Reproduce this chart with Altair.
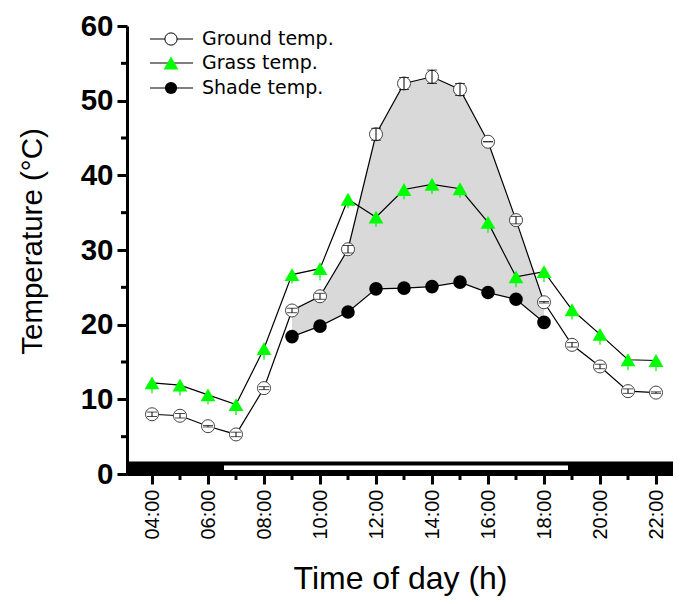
import altair as alt
import pandas as pd

hours = list(range(4, 23))
ground = [8.0, 7.8, 6.4, 5.3, 11.5, 21.9, 23.8, 30.1, 45.5, 52.3, 53.2, 51.5,
          44.5, 34.0, 23.0, 17.3, 14.4, 11.1, 10.9]
ground_err = [0.3, 0.3, 0.1, 0.3, 0.2, 0.3, 0.4, 0.5, 0.8, 0.8, 0.9, 0.8,
              0.0, 0.5, 0.1, 0.3, 0.3, 0.3, 0.1]
grass = [12.2, 11.9, 10.6, 9.3, 16.8, 26.7, 27.5, 36.8, 34.4, 38.1, 38.8, 38.2,
         33.7, 26.4, 27.1, 22.0, 18.7, 15.3, 15.2]
grass_err = [1.4, 1.4, 1.3, 1.4, 1.5, 1.2, 1.6, 1.2, 1.3, 1.3, 1.3, 1.2,
             1.4, 1.4, 1.4, 1.3, 1.4, 1.4, 1.4]
shade_hours = list(range(9, 19))
shade = [18.4, 19.8, 21.7, 24.8, 24.9, 25.1, 25.7, 24.3, 23.4, 20.3]

tick_hours = [4, 6, 8, 10, 12, 14, 16, 18, 20, 22]
tick_labels = ["04:00", "06:00", "08:00", "10:00", "12:00", "14:00",
               "16:00", "18:00", "20:00", "22:00"]
minor_hours = [5, 7, 9, 11, 13, 15, 17, 19, 21]
y_ticks = [0, 10, 20, 30, 40, 50, 60]
minor_y = [5, 15, 25, 35, 45, 55]
legend_labels = ["Ground temp.", "Grass temp.", "Shade temp."]

W, H = 546, 448
FONT = "Liberation Sans"
LEG_FONT = "DejaVu Sans"

ground_df = pd.DataFrame({"hour": hours, "temp": ground, "err": ground_err})
ground_df["lo"] = ground_df["temp"] - ground_df["err"]
ground_df["hi"] = ground_df["temp"] + ground_df["err"]
grass_df = pd.DataFrame({"hour": hours, "temp": grass, "err": grass_err})
grass_df["lo"] = grass_df["temp"] - grass_df["err"]
shade_df = pd.DataFrame({"hour": shade_hours, "temp": shade})
area_df = pd.DataFrame({"hour": shade_hours,
                        "temp": [g for h, g in zip(hours, ground) if h in shade_hours],
                        "low": shade})

label_expr = "[" + ",".join("'%s'" % s for s in tick_labels) + "][(datum.value-4)/2]"

x_enc = alt.X("hour:Q",
              scale=alt.Scale(domain=[3.107, 22.607], nice=False, zero=False),
              axis=alt.Axis(values=tick_hours, labelExpr=label_expr, labelAngle=-90,
                            labelFontSize=20, labelFont=FONT, labelPadding=5,
                            labelColor="black",
                            tickSize=10, tickWidth=3, tickColor="black",
                            domainWidth=3, domainColor="black", grid=False,
                            title="Time of day (h)", titleFontSize=32,
                            titleFont=FONT, titleFontWeight="normal",
                            titleY=104, titleBaseline="middle", titleColor="black"))
y_enc = alt.Y("temp:Q",
              scale=alt.Scale(domain=[0, 60], nice=False),
              axis=alt.Axis(values=y_ticks, labelFontSize=29.5, labelFontWeight="bold",
                            labelFont=FONT, labelPadding=4, labelColor="black",
                            tickSize=10, tickWidth=3, tickColor="black",
                            domainWidth=3, domainColor="black", grid=False,
                            title="Temperature (\u00b0C)", titleFontSize=29.5,
                            titleFont=FONT, titleFontWeight="normal",
                            titleX=-95, titleY=215, titleAngle=-90,
                            titleBaseline="middle", titleAlign="center",
                            titleColor="black"))

area = alt.Chart(area_df).mark_area(color="#d9d9d9", opacity=1).encode(
    x=x_enc, y=y_enc, y2="low:Q")

band = alt.Chart(pd.DataFrame({"a": [0]})).mark_rect(color="black").encode(
    x=alt.value(0), x2=alt.value(W), y=alt.value(H - 12.5), y2=alt.value(H + 1.5))
band_white = alt.Chart(pd.DataFrame({"a": [0]})).mark_rect(color="white").encode(
    x=alt.value(97), x2=alt.value(441), y=alt.value(H - 8.5), y2=alt.value(H - 4))

minor_y_rule = alt.Chart(pd.DataFrame({"temp": minor_y})).mark_rule(
    color="black", strokeWidth=3).encode(y="temp:Q", x=alt.value(-6), x2=alt.value(0))
minor_x_rule = alt.Chart(pd.DataFrame({"hour": minor_hours})).mark_rule(
    color="black", strokeWidth=3).encode(x="hour:Q", y=alt.value(H), y2=alt.value(H + 6))

line_kw = dict(color="black", strokeWidth=1.2)
grass_line = alt.Chart(grass_df).mark_line(**line_kw).encode(x="hour:Q", y="temp:Q")
ground_line = alt.Chart(ground_df).mark_line(**line_kw).encode(x="hour:Q", y="temp:Q")
shade_line = alt.Chart(shade_df).mark_line(**line_kw).encode(x="hour:Q", y="temp:Q")

grass_err_rule = alt.Chart(grass_df).mark_rule(color="#00ee00", strokeWidth=1.2).encode(
    x="hour:Q", y="lo:Q", y2="temp:Q")
grass_pts = alt.Chart(grass_df).mark_point(
    shape="triangle-up", filled=True, color="#00ff00", size=220, opacity=1,
    strokeWidth=0).encode(x="hour:Q", y="temp:Q")
ground_pts = alt.Chart(ground_df).mark_point(
    shape="circle", filled=True, fill="white", stroke="#444444", strokeWidth=1,
    size=170, opacity=1).encode(x="hour:Q", y="temp:Q")
ground_err_rule = alt.Chart(ground_df).mark_rule(color="black", strokeWidth=1).encode(
    x="hour:Q", y="lo:Q", y2="hi:Q")
ground_cap_lo = alt.Chart(ground_df).mark_tick(
    color="black", orient="horizontal", size=10, thickness=1).encode(
    x="hour:Q", y="lo:Q")
ground_cap_hi = alt.Chart(ground_df).mark_tick(
    color="black", orient="horizontal", size=10, thickness=1).encode(
    x="hour:Q", y="hi:Q")
shade_pts = alt.Chart(shade_df).mark_point(
    shape="circle", filled=True, color="black", size=185, opacity=1).encode(
    x="hour:Q", y="temp:Q")

# legend
leg_rows = [13, 37, 62]
leg_layers = []
for lbl, ry, kind in zip(legend_labels, leg_rows, ["ground", "grass", "shade"]):
    d = alt.Chart(pd.DataFrame({"label": [lbl]}))
    leg_layers.append(d.mark_rule(color="black", strokeWidth=1.2).encode(
        x=alt.value(23), x2=alt.value(66), y=alt.value(ry)))
    if kind == "ground":
        sym = d.mark_point(shape="circle", filled=True, fill="white", stroke="black",
                           strokeWidth=1, size=150, opacity=1)
    elif kind == "grass":
        sym = d.mark_point(shape="triangle-up", filled=True, color="#00ff00",
                           size=220, opacity=1, strokeWidth=0)
    else:
        sym = d.mark_point(shape="circle", filled=True, color="black", size=150,
                           opacity=1)
    leg_layers.append(sym.encode(x=alt.value(44), y=alt.value(ry)))
    leg_layers.append(d.mark_text(align="left", baseline="middle", fontSize=19,
                                  font=LEG_FONT, color="black").encode(
        text="label:N", x=alt.value(75), y=alt.value(ry)))

chart = alt.layer(
    area, band, band_white, minor_y_rule, minor_x_rule,
    grass_line, ground_line, shade_line,
    grass_err_rule, grass_pts, ground_pts, ground_err_rule, ground_cap_lo,
    ground_cap_hi, shade_pts, *leg_layers
).properties(
    width=W, height=H,
    autosize=alt.AutoSizeParams(type="none"),
    padding={"left": 119, "top": 18, "right": 0, "bottom": 122},
).configure(background="white").configure_view(stroke=None)

chart.save("out.html", embed_options={"renderer": "svg", "actions": False})
